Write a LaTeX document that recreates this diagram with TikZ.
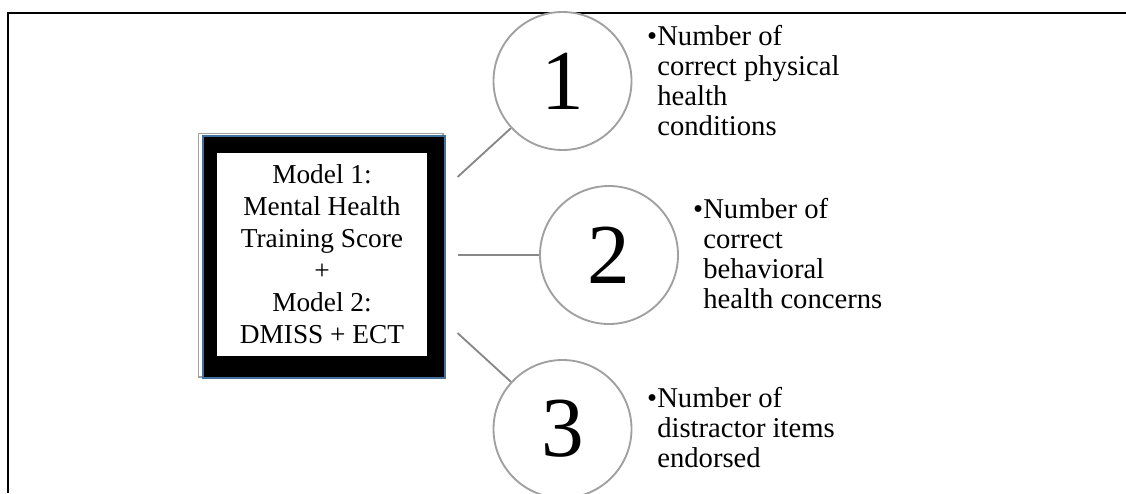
\documentclass[tikz,border=0pt]{standalone}
\usepackage{fontspec}
\setmainfont{Liberation Serif}
\usetikzlibrary{calc,positioning}
\definecolor{ringgray}{HTML}{A0A0A0}
\definecolor{linkgray}{HTML}{888888}
\definecolor{edgeblue}{HTML}{41719C}
\begin{document}
\begin{tikzpicture}[x=0.75pt,y=-0.75pt,
  ring/.style={circle,draw=ringgray,line width=1.4pt,fill=white,minimum size=103.5pt,inner sep=0pt,font=\fontsize{64}{64}\selectfont},
  link/.style={draw=linkgray,line width=1.4pt},
  item/.style={anchor=north west,align=left,inner sep=0pt,font=\fontsize{21.5}{22.5}\selectfont}]
\useasboundingbox (0,0) rectangle (1126,493);
\draw[line width=1.5pt] (7.5,493) -- (7.5,12.5) -- (1126,12.5);
% model box
\draw[ringgray,line width=1pt] (198.5,133.5) rectangle (443,377);
\node[draw=edgeblue,line width=0.8pt,fill=black,minimum width=181.5pt,minimum height=181.5pt,inner sep=0pt] (model) at (324,257) {};
\node[fill=white,minimum width=157.5pt,minimum height=152.25pt,align=center,inner sep=0pt,font=\fontsize{20.5}{24}\selectfont] (score) at (322,254.5) {Model 1:\\Mental Health\\Training Score\\+\\Model 2:\\DMISS + ECT};
% outcomes
\node[ring] (c1) at (562.5,81) {1};
\node[ring] (c2) at (609,255) {2};
\node[ring] (c3) at (562.5,429) {3};
\coordinate (s1) at ($(model.east)+(12,-80)$);
\coordinate (s2) at ($(model.east)+(12,-2)$);
\coordinate (s3) at ($(model.east)+(12,76)$);
\draw[link] (s1) -- (c1);
\draw[link] (s2) -- (c2);
\draw[link] (s3) -- (c3);
\node[item] (t1) at (657,25.4) {\llap{\textbullet}Number of\\correct physical\\health\\conditions};
\node[item] (t2) at (703,198.4) {\llap{\textbullet}Number of\\correct\\behavioral\\health concerns};
\node[item] (t3) at (657,387.4) {\llap{\textbullet}Number of\\distractor items\\endorsed};
\end{tikzpicture}
\end{document}
